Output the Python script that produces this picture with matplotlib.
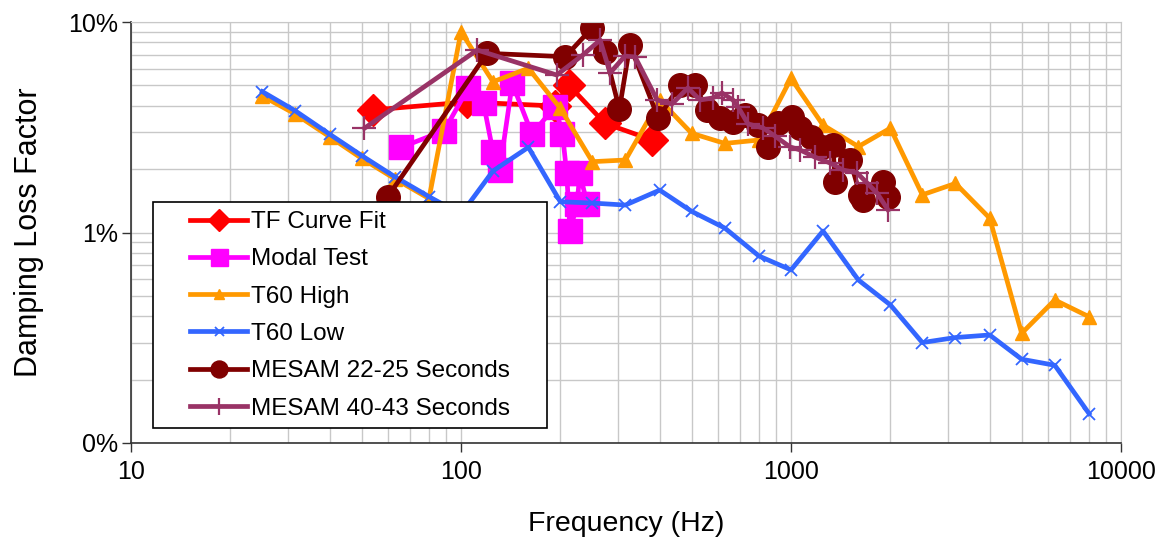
import matplotlib
matplotlib.use("Agg")
import matplotlib.pyplot as plt
from matplotlib.patches import Rectangle
from matplotlib.ticker import FixedLocator, FuncFormatter, LogLocator, NullFormatter

plt.rcParams['font.family'] = ['Liberation Sans', 'DejaVu Sans']

# ---- data (damping loss factor in %) ----
t60_freq = [25, 31.5, 40, 50, 63, 80, 100, 125, 160, 200, 250, 315, 400, 500,
            630, 800, 1000, 1250, 1600, 2000, 2500, 3150, 4000, 5000, 6300, 8000]
t60_low = [4.67, 3.78, 2.93, 2.32, 1.84, 1.48, 1.22, 1.96, 2.54, 1.40, 1.38, 1.35, 1.59,
           1.26, 1.05, 0.773, 0.664, 1.016, 0.595, 0.453, 0.30, 0.317, 0.326, 0.25, 0.234, 0.138]
t60_high = [4.45, 3.65, 2.85, 2.25, 1.80, 1.45, 8.99, 5.2, 6.03, 3.89, 2.17, 2.21, 4.26,
            2.96, 2.65, 2.75, 5.4, 3.24, 2.56, 3.13, 1.51, 1.71, 1.17, 0.332, 0.478, 0.398]

tf_freq = [54, 104, 193, 212, 273, 380]
tf_vals = [3.82, 4.17, 3.99, 5.02, 3.30, 2.75]

modal_freq = [66, 89, 105, 117, 125, 131, 143, 164, 193, 203, 209, 214, 225, 229, 241]
modal_vals = [2.54, 3.05, 4.84, 4.11, 2.42, 1.98, 5.11, 2.94, 3.96, 2.94, 1.92, 1.02, 1.37, 1.92, 1.37]

mesam22_freq = [60, 120, 207, 249, 273, 302, 325, 396, 461, 512, 555, 610, 667, 726, 795,
                851, 914, 1008, 1064, 1150, 1242, 1340, 1360, 1510, 1619, 1650, 1901, 1968]
mesam22_vals = [1.48, 7.10, 6.84, 9.33, 7.22, 3.85, 7.78, 3.49, 5.02, 5.02, 3.82, 3.50, 3.35,
                3.62, 3.24, 2.55, 3.31, 3.54, 3.14, 2.84, 2.55, 2.60, 1.74, 2.21, 1.51, 1.42,
                1.74, 1.48]

mesam40_freq = [51, 112, 195, 234, 264, 283, 314, 337, 393, 436, 487, 530, 580, 618, 667,
                691, 741, 822, 895, 993, 1064, 1182, 1313, 1439, 1585, 1700, 1822, 1968]
mesam40_vals = [3.13, 7.36, 5.60, 6.97, 8.21, 5.73, 6.89, 6.82, 4.26, 4.08, 4.86, 4.26, 4.36,
                4.60, 4.26, 3.95, 3.28, 3.14, 2.87, 2.55, 2.47, 2.28, 2.14, 1.98, 1.92, 1.72,
                1.54, 1.28]

labels = ["TF Curve Fit", "Modal Test", "T60 High", "T60 Low",
          "MESAM 22-25 Seconds", "MESAM 40-43 Seconds"]

fig = plt.figure(figsize=(11.64, 5.39), dpi=100)
ax = fig.add_axes([131 / 1164, 1 - 443 / 539, (1121 - 131) / 1164, (443 - 22) / 539])

lw = 3.4
h1, = ax.plot(tf_freq, tf_vals, color='#FF0000', lw=lw, marker='D', ms=16, label=labels[0])
h2, = ax.plot(modal_freq, modal_vals, color='#FF00FF', lw=lw, marker='s', ms=17, label=labels[1])
h3, = ax.plot(t60_freq, t60_high, color='#FF9900', lw=lw, marker='^', ms=10, label=labels[2])
h4, = ax.plot(t60_freq, t60_low, color='#3366FF', lw=lw, marker='x', ms=9, mew=1.3, label=labels[3])
h5, = ax.plot(mesam22_freq, mesam22_vals, color='#800000', lw=lw, marker='o', ms=17, label=labels[4])
h6, = ax.plot(mesam40_freq, mesam40_vals, color='#993366', lw=lw, marker='+', ms=17, mew=1.6,
              label=labels[5])

ax.set_xscale('log')
ax.set_yscale('log')
ax.set_xlim(10, 10000)
ax.set_ylim(0.1, 10)

ax.xaxis.set_major_locator(FixedLocator([10, 100, 1000, 10000]))
ax.xaxis.set_major_formatter(FuncFormatter(lambda v, p: f"{v:.0f}"))
ax.xaxis.set_minor_locator(LogLocator(base=10, subs=range(2, 10), numticks=20))
ax.xaxis.set_minor_formatter(NullFormatter())
ax.yaxis.set_major_locator(FixedLocator([0.1, 1, 10]))
ax.yaxis.set_major_formatter(FuncFormatter(lambda v, p: f"{v:.0f}%"))
ax.yaxis.set_minor_locator(LogLocator(base=10, subs=range(2, 10), numticks=20))
ax.yaxis.set_minor_formatter(NullFormatter())

ax.grid(True, which='both', color='#C8C8C8', lw=1.0)
ax.set_axisbelow(True)
ax.tick_params(which='minor', length=0)
ax.tick_params(which='major', length=6.5, width=1, color='#333333', labelsize=18)
ax.tick_params(axis='x', which='major', pad=6)
ax.tick_params(axis='y', which='major', pad=3)
for s in ['left', 'bottom']:
    ax.spines[s].set_color('#333333')
    ax.spines[s].set_linewidth(1.2)
for s in ['top', 'right']:
    ax.spines[s].set_color('#C8C8C8')

ax.set_xlabel("Frequency (Hz)", fontsize=20.5, labelpad=19)
ax.set_ylabel("Damping Loss Factor", fontsize=22, labelpad=17)

# legend frame drawn separately
frame = Rectangle((153 / 1164, 1 - 428 / 539), (547 - 153) / 1164, (428 - 202) / 539,
                  transform=fig.transFigure, facecolor='white', edgecolor='black',
                  lw=1.2, zorder=10, clip_on=False)
ax.add_patch(frame)
leg = ax.legend(handles=[h1, h2, h3, h4, h5, h6], loc='upper left',
                bbox_to_anchor=(190 / 1164, 1 - 211 / 539), bbox_transform=fig.transFigure,
                frameon=False, fontsize=17.5, borderpad=0, borderaxespad=0,
                handlelength=2.35, handletextpad=0.15, labelspacing=0.63, markerscale=0.72)
leg.set_zorder(11)

fig.savefig("out.png", dpi=100)
